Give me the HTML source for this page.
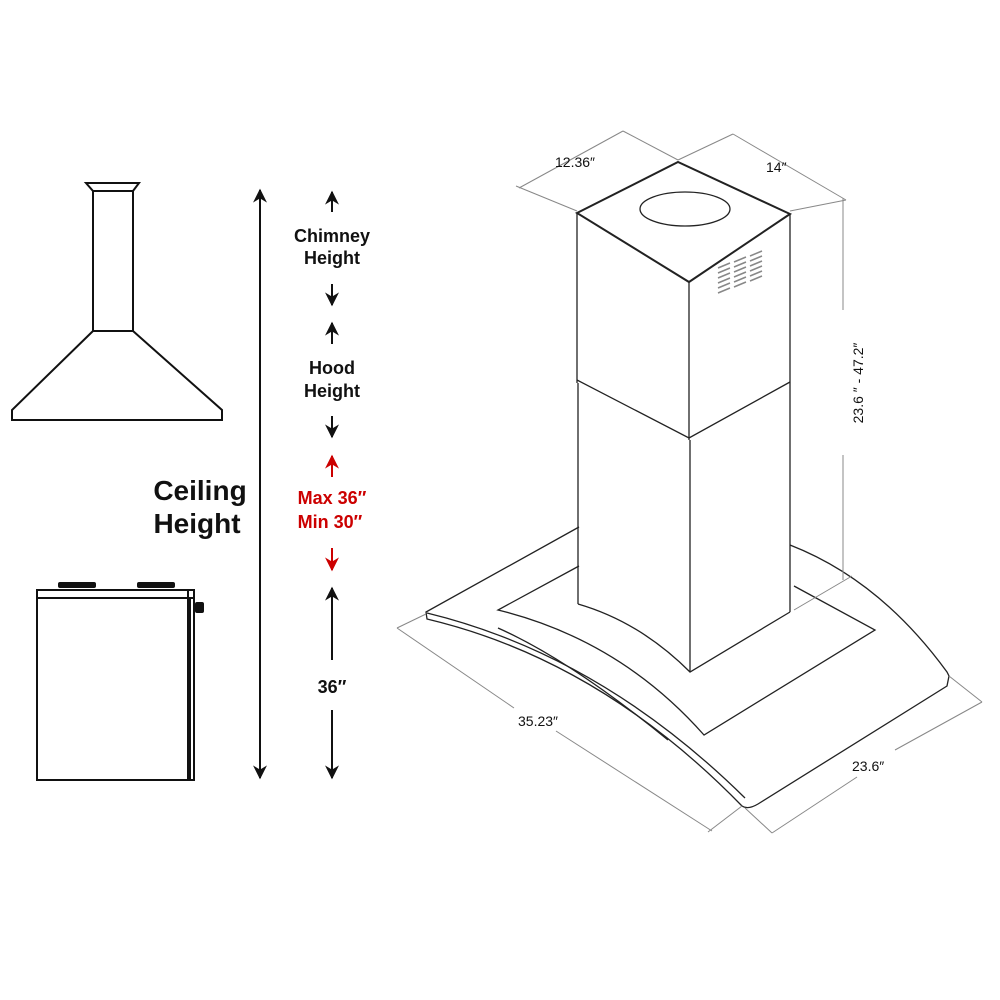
<!DOCTYPE html>
<html><head><style>
html,body{margin:0;padding:0;background:#fff;}
svg{display:block;}
text{font-family:"Liberation Sans",Arial,sans-serif;}
</style></head><body>
<svg width="1000" height="1000" viewBox="0 0 1000 1000" xmlns="http://www.w3.org/2000/svg">
<defs>
<marker id="ah" viewBox="0 0 10 10" refX="9" refY="5" markerWidth="7" markerHeight="7" orient="auto-start-reverse"><path d="M0,0 L10,5 L0,10 L3,5 z" fill="#111"/></marker>
<marker id="ahr" viewBox="0 0 10 10" refX="9" refY="5" markerWidth="7" markerHeight="7" orient="auto-start-reverse"><path d="M0,0 L10,5 L0,10 L3,5 z" fill="#c00"/></marker>
</defs>
<g fill="none" stroke="#111" stroke-width="2">
<!-- left hood -->
<path d="M86,183 L139,183 L133,191 L93,191 Z"/>
<rect x="93" y="191" width="40" height="140"/>
<path d="M93,331 L12,410 L12,420 L222,420 L222,410 L133,331 Z"/>
<!-- stove -->
<rect x="37" y="590" width="151" height="190"/>
<line x1="37" y1="598" x2="194" y2="598"/>
<path d="M37,590 L194,590 L194,780 L188,780"/>
<line x1="190" y1="598" x2="190" y2="780"/>
</g>
<rect x="58" y="582" width="38" height="6" rx="2" fill="#111"/>
<rect x="137" y="582" width="38" height="6" rx="2" fill="#111"/>
<rect x="195" y="602" width="9" height="11" rx="2" fill="#111"/>
<!-- arrows -->
<g stroke="#111" stroke-width="2">
<line x1="260" y1="190" x2="260" y2="778" marker-start="url(#ah)" marker-end="url(#ah)"/>
<line x1="332" y1="212" x2="332" y2="192" marker-end="url(#ah)"/>
<line x1="332" y1="284" x2="332" y2="305" marker-end="url(#ah)"/>
<line x1="332" y1="344" x2="332" y2="323" marker-end="url(#ah)"/>
<line x1="332" y1="416" x2="332" y2="437" marker-end="url(#ah)"/>
<line x1="332" y1="660" x2="332" y2="588" marker-end="url(#ah)"/>
<line x1="332" y1="710" x2="332" y2="778" marker-end="url(#ah)"/>
</g>
<g stroke="#c00" stroke-width="2">
<line x1="332" y1="477" x2="332" y2="456" marker-end="url(#ahr)"/>
<line x1="332" y1="548" x2="332" y2="570" marker-end="url(#ahr)"/>
</g>
<g font-weight="bold" text-anchor="middle" fill="#111">
<text x="200" y="500" font-size="28" text-anchor="middle">Ceiling</text>
<text x="197" y="533" font-size="28">Height</text>
<text x="332" y="242" font-size="18">Chimney</text>
<text x="332" y="264" font-size="18">Height</text>
<text x="332" y="374" font-size="18">Hood</text>
<text x="332" y="397" font-size="18">Height</text>
<text x="332" y="504" font-size="18" fill="#c00">Max 36″</text>
<text x="330" y="528" font-size="18" fill="#c00">Min 30″</text>
<text x="332" y="693" font-size="18">36″</text>
</g>
<!-- right drawing -->
<g fill="none" stroke="#222" stroke-width="1.3">
<!-- glass outer -->
<path d="M579,527 L426,612 L427,619 Q600,660 742,806 Q748,810 758,804 L947,686 L949,676 L947,672 Q880,580 790,545"/>
<path d="M427,613 Q600,655 745,798"/>
<path d="M498,628 Q570,660 668,740"/>
<!-- plate -->
<path d="M579,566 L498,610 Q620,640 704,735 L875,630 L794,586"/>
<!-- chimney -->
<path d="M577,213 L678,162 L790,214 L689,282 Z" stroke-width="2"/>
<line x1="577" y1="213" x2="577" y2="383"/>
<line x1="689" y1="282" x2="689" y2="440"/>
<line x1="790" y1="214" x2="790" y2="385"/>
<path d="M577,380 L689,438 L790,382"/>
<line x1="578" y1="383" x2="578" y2="604"/>
<line x1="690" y1="440" x2="690" y2="672"/>
<line x1="790" y1="385" x2="790" y2="612"/>
<path d="M578,604 Q640,622 690,672 L790,612"/>
<ellipse cx="685" cy="209" rx="45" ry="17"/>
<!-- dims -->
<g stroke="#888" stroke-width="1">
<line x1="577" y1="211" x2="516" y2="186"/>
<line x1="519" y1="188" x2="623" y2="131"/>
<line x1="678" y1="160" x2="623" y2="131"/>
<line x1="678" y1="160" x2="733" y2="134"/>
<line x1="733" y1="134" x2="846" y2="200"/>
<line x1="790" y1="211" x2="846" y2="200"/>
<line x1="843" y1="198" x2="843" y2="310"/>
<line x1="843" y1="455" x2="843" y2="580"/>
<line x1="794" y1="610" x2="852" y2="576"/>
<line x1="426" y1="614" x2="397" y2="628"/>
<line x1="397" y1="628" x2="514" y2="708"/>
<line x1="556" y1="731" x2="712" y2="831"/>
<line x1="742" y1="806" x2="708" y2="832"/>
<line x1="745" y1="808" x2="772" y2="833"/>
<line x1="772" y1="833" x2="857" y2="777"/>
<line x1="895" y1="750" x2="982" y2="702"/>
<line x1="949" y1="676" x2="982" y2="702"/>
</g>
</g>
<!-- vents -->
<g stroke="#888" stroke-width="1.5">
<path d="M718,268 l12,-5 M718,273 l12,-5 M718,278 l12,-5 M718,283 l12,-5 M718,288 l12,-5 M718,293 l12,-5"/>
<path d="M734,262 l12,-5 M734,267 l12,-5 M734,272 l12,-5 M734,277 l12,-5 M734,282 l12,-5 M734,287 l12,-5"/>
<path d="M750,256 l12,-5 M750,261 l12,-5 M750,266 l12,-5 M750,271 l12,-5 M750,276 l12,-5 M750,281 l12,-5"/>
</g>
<g fill="#111" font-size="14">
<text x="555" y="167">12.36″</text>
<text x="766" y="172">14″</text>
<text x="518" y="726">35.23″</text>
<text x="852" y="771">23.6″</text>
<text transform="translate(863,383) rotate(-90)" text-anchor="middle">23.6 ″  -  47.2″</text>
</g>
</svg>
</body></html>
